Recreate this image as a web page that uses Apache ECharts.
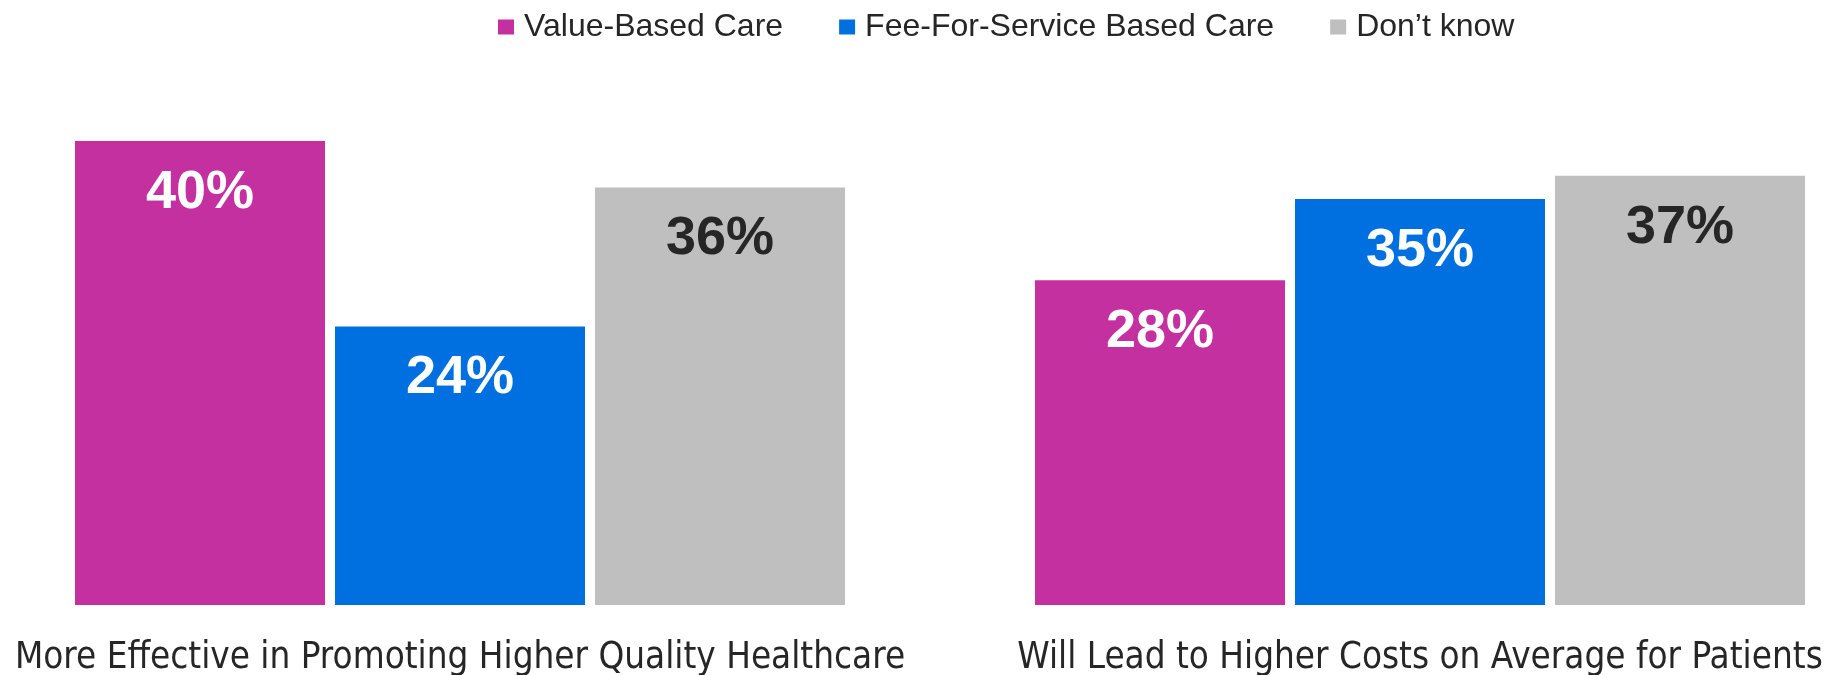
<!DOCTYPE html>
<html>
<head>
<meta charset="utf-8">
<style>
  html, body { margin: 0; padding: 0; background: #fff; }
  #chart1 { width: 1837px; height: 675px; }
</style>
<script src="https://cdn.jsdelivr.net/npm/echarts@6/dist/echarts.min.js"></script>
</head>
<body>
<div id="chart1"></div>
<script>
// 数据
var categories = [
  "More Effective in Promoting Higher Quality Healthcare",
  "Will Lead to Higher Costs on Average for Patients",
];
var seriesNames = ["Value-Based Care", "Fee-For-Service Based Care", "Don\u2019t know"];
var valueBased = [40, 28];
var feeForService = [24, 35];
var dontKnow = [36, 37];

(function () {
  var myChart = echarts.init(document.querySelector("#chart1"));
  var colors = ["#C4309F", "#0070E0", "#BFBFBF"];
  var labelColors = ["#ffffff", "#ffffff", "#262626"];
  var allData = [valueBased, feeForService, dontKnow];

  var series = seriesNames.map(function (name, i) {
    return {
      name: name,
      type: "bar",
      data: allData[i],
      barWidth: 250,
      barGap: "4%",
      itemStyle: { color: colors[i] },
      //柱子内部顶部的百分比
      label: {
        show: true,
        position: "insideTop",
        distance: 25,
        formatter: "{c}%",
        color: labelColors[i],
        fontFamily: "Liberation Sans, Arial, sans-serif",
        fontWeight: "bold",
        fontSize: 54,
      },
    };
  });

  var option = {
    animation: false,
    color: colors,
    legend: {
      data: seriesNames,
      left: 493,
      top: 6,
      itemWidth: 16,
      itemHeight: 15,
      itemGap: 56,
      icon: "rect",
      textStyle: {
        fontFamily: "Liberation Sans, Arial, sans-serif",
        fontSize: 32,
        color: "#262626",
        padding: [0, 0, 0, 5],
      },
    },
    grid: {
      left: -20,
      right: -63,
      top: 25,
      bottom: 70,
      containLabel: false,
      outerBoundsMode: "none",
    },
    xAxis: {
      type: "category",
      data: categories,
      axisLine: { show: false },
      axisTick: { show: false },
      axisLabel: {
        margin: 35,
        interval: 0,
        color: "#262626",
        fontFamily: "DejaVu Sans Condensed, DejaVu Sans, sans-serif",
        fontSize: 36.5,
      },
    },
    yAxis: {
      type: "value",
      min: 0,
      max: 50,
      show: false,
      splitLine: { show: false },
    },
    series: series,
  };
  myChart.setOption(option);
})();
</script>
</body>
</html>
